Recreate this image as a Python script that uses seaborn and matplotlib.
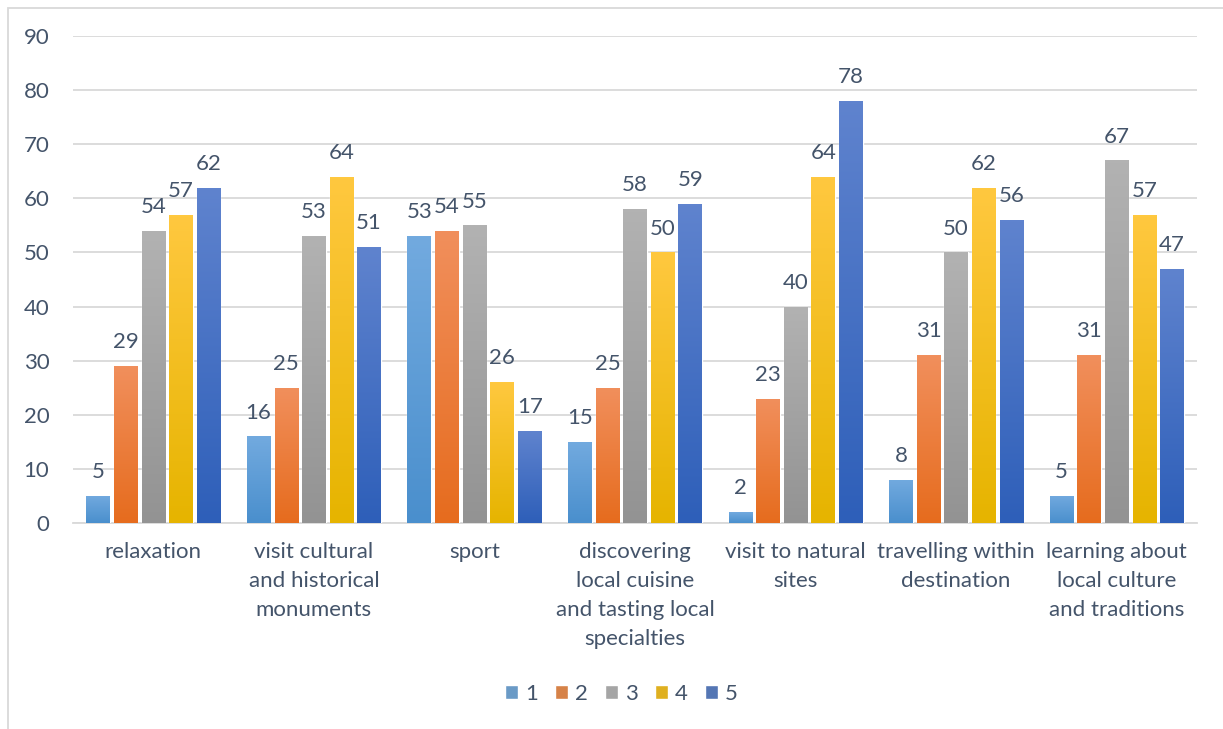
import numpy as np
import pandas as pd
import matplotlib
matplotlib.use("Agg")
import matplotlib.pyplot as plt
import seaborn as sns
from matplotlib.colors import LinearSegmentedColormap
from matplotlib.patches import Rectangle

categories = ["relaxation", "visit cultural\nand historical\nmonuments", "sport",
              "discovering\nlocal cuisine\nand tasting local\nspecialties",
              "visit to natural\nsites", "travelling within\ndestination",
              "learning about\nlocal culture\nand traditions"]
series_names = ["1", "2", "3", "4", "5"]
s1 = [5, 16, 53, 15, 2, 8, 5]
s2 = [29, 25, 54, 25, 23, 31, 31]
s3 = [54, 53, 55, 58, 40, 50, 67]
s4 = [57, 64, 26, 50, 64, 62, 57]
s5 = [62, 51, 17, 59, 78, 56, 47]
y_ticks = [0, 10, 20, 30, 40, 50, 60, 70, 80, 90]

base_colors = ["#5B9BD5", "#ED7D31", "#A5A5A5", "#FFC000", "#4472C4"]
grad_top = ["#72AADF", "#F18F5C", "#B2B2B2", "#FFC83F", "#5F83CE"]
grad_bot = ["#4A8FCD", "#E66C1E", "#939393", "#E6B400", "#2E5FB9"]
text_color = "#44546A"
FS = 16

rows = []
for name, vals in zip(series_names, [s1, s2, s3, s4, s5]):
    for c, v in zip(categories, vals):
        rows.append({"category": c, "series": name, "value": v})
df = pd.DataFrame(rows)

sns.set_style("white")
plt.rcParams["font.family"] = ["Lato", "DejaVu Sans"]

fig = plt.figure(figsize=(12.23, 7.29), dpi=100)
ax = fig.add_axes([73 / 1223, 1 - 523 / 729, (1197 - 73) / 1223, (523 - 36) / 729])

sns.barplot(data=df, x="category", y="value", hue="series", order=categories,
            hue_order=series_names, palette=base_colors, width=0.86, gap=0.15,
            ax=ax, legend=True, zorder=3)

ax.set_xlim(-0.5, 6.5)
ax.set_ylim(0, 90)
ax.set_yticks(y_ticks)
ax.yaxis.grid(True, color="#D9D9D9", linewidth=1.3, zorder=0)
ax.set_axisbelow(True)
for sp in ["left", "right", "top"]:
    ax.spines[sp].set_visible(False)
ax.spines["bottom"].set_color("#D9D9D9")
ax.spines["bottom"].set_linewidth(1.3)
ax.tick_params(axis="y", length=0, pad=17, labelsize=FS, labelcolor=text_color)
ax.tick_params(axis="x", length=0, pad=14, labelsize=FS, labelcolor=text_color)
for lab in ax.get_xticklabels():
    lab.set_linespacing(1.55)
ax.set_xlabel("")
ax.set_ylabel("")

# gradients
for i, cont in enumerate(ax.containers):
    cmap = LinearSegmentedColormap.from_list(f"g{i}", [grad_bot[i], grad_top[i]])
    for p in cont.patches:
        x0, y0 = p.get_x(), p.get_y()
        w, h = p.get_width(), p.get_height()
        if h <= 0:
            continue
        grad = np.linspace(0, 1, 100).reshape(-1, 1)
        im = ax.imshow(grad, extent=[x0, x0 + w, y0, y0 + h], origin="lower",
                       aspect="auto", cmap=cmap, zorder=3.5, interpolation="bilinear")
        im.set_clip_path(p)
    ax.bar_label(cont, padding=10, fontsize=FS, color=text_color)
ax.set_xlim(-0.5, 6.5)
ax.set_ylim(0, 90)

leg = ax.legend(loc="center", ncol=5, frameon=False, fontsize=FS,
                handlelength=0.62, handleheight=0.62, handletextpad=0.3, columnspacing=0.75,
                labelcolor=text_color)
leg.set_bbox_to_anchor((0.508, (729 - 694) / 729), transform=fig.transFigure)

fig.patches.append(Rectangle((8 / 1223, -0.1), 1.2, 1 - 8 / 729 + 0.1,
                             transform=fig.transFigure, fill=False,
                             edgecolor="#D9D9D9", linewidth=1.3))

fig.savefig("out.png", dpi=100)
